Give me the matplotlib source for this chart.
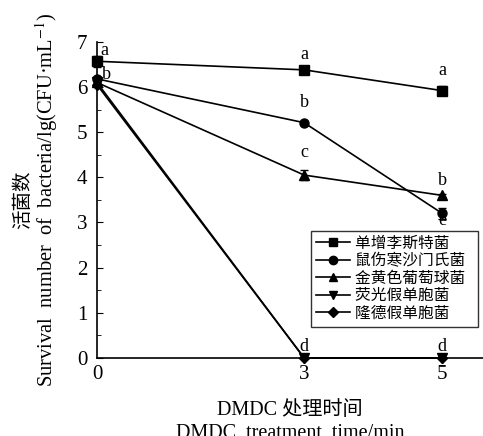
import matplotlib.pyplot as plt
from matplotlib.lines import Line2D
from matplotlib.ticker import MultipleLocator

plt.rcParams['font.family'] = ['Liberation Serif', 'Noto Sans CJK SC']
plt.rcParams['mathtext.fontset'] = 'stix'

times = [0, 3, 5]
names = ['单增李斯特菌', '鼠伤寒沙门氏菌', '金黄色葡萄球菌', '荧光假单胞菌', '隆德假单胞菌']
markers = ['s', 'o', '^', 'v', 'D']
values = [
    [6.57, 6.38, 5.92],
    [6.18, 5.21, 3.20],
    [6.10, 4.05, 3.60],
    [6.10, 0.0, 0.0],
    [6.05, 0.0, 0.0],
]
errors = [
    [0.12, 0.03, 0.10],
    [0.05, 0.03, 0.13],
    [0.05, 0.12, 0.04],
    [0.03, 0.0, 0.0],
    [0.03, 0.0, 0.0],
]
# significance letters: (x, y, text)
letter_x = [0.1, 0.13, 3, 3, 3, 3, 5, 5, 5, 5]
letter_y = [6.8, 6.27, 6.72, 5.65, 4.55, 0.26, 6.37, 3.92, 3.04, 0.26]
letters = ['a', 'b', 'a', 'b', 'c', 'd', 'a', 'b', 'e', 'd']


def main():
    fig = plt.figure(figsize=(4.83, 4.36), dpi=100)
    ax = fig.add_axes([0.2008, 0.179, 0.7992, 0.725])

    handles = []
    for i in range(len(names)):
        ms = 5.5 if markers[i] == 'D' else 6.5
        ax.errorbar(times, values[i], yerr=errors[i], color='black',
                    marker=markers[i], markersize=ms, linewidth=1.2,
                    elinewidth=1.0, capsize=3, clip_on=False, zorder=3)
        handles.append(Line2D([], [], color='black', marker=markers[i],
                              markersize=ms - 0.5, linewidth=1.2))

    for x, y, t in zip(letter_x, letter_y, letters):
        ax.text(x, y, t, ha='center', va='center', fontsize=13)

    ax.set_xlim(0, 5.59)
    ax.set_ylim(0, 7)
    ax.set_xticks(times)
    ax.yaxis.set_major_locator(MultipleLocator(1))
    ax.yaxis.set_minor_locator(MultipleLocator(0.5))
    ax.tick_params(axis='y', which='major', direction='in', length=4,
                   labelsize=15, pad=7)
    ax.tick_params(axis='y', which='minor', direction='in', length=3)
    ax.tick_params(axis='x', length=0, labelsize=15, pad=5)
    ax.spines['top'].set_visible(False)
    ax.spines['right'].set_visible(False)
    for s in ['left', 'bottom']:
        ax.spines[s].set_linewidth(1.2)

    # two-line y label, placed by hand
    fig.text(0.047, 0.541, '活菌数', rotation=90, ha='center', va='center',
             fontsize=14)
    fig.text(0.097, 0.541,
             'Survival  number  of  bacteria/lg(CFU·mL$^{-1}$)',
             rotation=90, ha='center', va='center', fontsize=14.8)
    ax.set_xlabel('DMDC 处理时间\nDMDC  treatment  time/min',
                  fontsize=14.5, linespacing=1.3, labelpad=12)

    leg = ax.legend(handles, [n + '  ' for n in names], loc='upper left',
                    bbox_to_anchor=(0.554, 0.402),
                    fontsize=11.3, frameon=True, fancybox=False,
                    edgecolor='black', borderpad=0.3, labelspacing=0.1,
                    handlelength=2.2, handletextpad=0.32, borderaxespad=0)
    leg.get_frame().set_linewidth(1.0)

    plt.savefig('out.png', dpi=100)


if __name__ == '__main__':
    main()
